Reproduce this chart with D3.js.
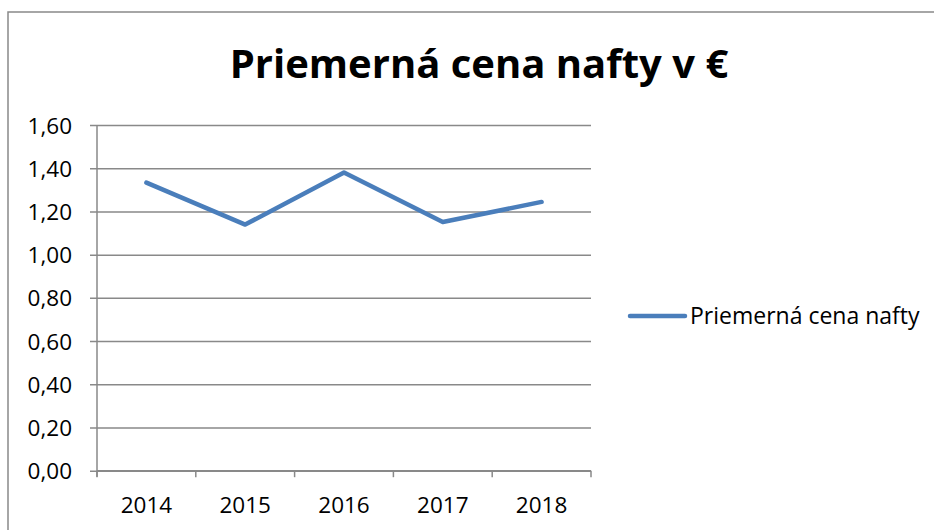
<!DOCTYPE html>
<html>
<head>
<meta charset="utf-8">
<script src="https://cdn.jsdelivr.net/npm/d3@7"></script>
<style>
  body { margin: 0; background: #fff; }
  text { font-family: "Open Sans", sans-serif; fill: #000; }
</style>
</head>
<body>
<div id="chart"></div>
<script>
var years = ["2014", "2015", "2016", "2017", "2018"];
var prices = [1.333, 1.139, 1.380, 1.151, 1.244];
var yTicks = [0, 0.2, 0.4, 0.6, 0.8, 1.0, 1.2, 1.4, 1.6];
var seriesName = "Priemerná cena nafty";
var chartTitle = "Priemerná cena nafty v €";

var width = 934, height = 530;
var plot = {left: 97, right: 591, top: 125, bottom: 470.7};
var gray = "#898989", blue = "#4a7ebb";

var svg = d3.select("#chart")
    .append("svg")
    .attr("width", width)
    .attr("height", height);

// chart frame (runs past the right and bottom edge of the window)
svg.append("rect")
    .attr("x", 8).attr("y", 12)
    .attr("width", 940).attr("height", 540)
    .attr("fill", "none")
    .attr("stroke", gray)
    .attr("stroke-width", 1.5);

svg.append("text")
    .attr("x", 479)
    .attr("y", 78)
    .attr("text-anchor", "middle")
    .attr("font-size", "40px")
    .attr("font-weight", "bold")
    .text(chartTitle);

var x = d3.scaleBand()
    .domain(years)
    .range([plot.left, plot.right])
    .paddingInner(0).paddingOuter(0);

var y = d3.scaleLinear()
    .domain([0, 1.6])
    .range([plot.bottom, plot.top]);

// gridlines + y axis
var yAxis = d3.axisLeft(y)
    .tickValues(yTicks)
    .tickSize(-(plot.right - plot.left))
    .tickPadding(0)
    .tickFormat(function(d){ return d3.format(".2f")(d).replace(".", ","); });

var gy = svg.append("g")
    .attr("transform", "translate(" + plot.left + ",0)")
    .call(yAxis);
gy.select(".domain").remove();
gy.selectAll(".tick line")
    .attr("x1", -7)
    .attr("stroke", gray)
    .attr("stroke-width", 1.5);
gy.selectAll(".tick text")
    .attr("x", -25)
    .attr("dy", "0.36em")
    .attr("font-size", "22.5px")
    .attr("font-family", "Open Sans")
    .attr("fill", "#000");

// vertical axis line
svg.append("line")
    .attr("x1", plot.left).attr("x2", plot.left)
    .attr("y1", plot.top).attr("y2", plot.bottom + 6)
    .attr("stroke", gray).attr("stroke-width", 1.5);

// x axis with ticks on category boundaries
var gx = svg.append("g")
    .attr("transform", "translate(0," + plot.bottom + ")");
gx.append("line")
    .attr("x1", plot.left).attr("x2", plot.right)
    .attr("stroke", gray).attr("stroke-width", 1.5);
var bounds = years.map(function(d){ return x(d); }).concat([x(years[years.length - 1]) + x.bandwidth()]);
gx.selectAll(".xt")
    .data(bounds)
    .enter()
    .append("line")
    .attr("x1", function(d){ return d; })
    .attr("x2", function(d){ return d; })
    .attr("y1", 0).attr("y2", 6.5)
    .attr("stroke", gray).attr("stroke-width", 1.5);
gx.selectAll(".xl")
    .data(years)
    .enter()
    .append("text")
    .attr("x", function(d){ return x(d) + x.bandwidth() / 2; })
    .attr("y", 42.5)
    .attr("text-anchor", "middle")
    .attr("font-size", "22.5px")
    .text(function(d){ return d; });

// series line
var line = d3.line()
    .x(function(d, i){ return x(years[i]) + x.bandwidth() / 2; })
    .y(function(d){ return y(d); });

svg.append("path")
    .datum(prices)
    .attr("d", line)
    .attr("fill", "none")
    .attr("stroke", blue)
    .attr("stroke-width", 4.5)
    .attr("stroke-linejoin", "round")
    .attr("stroke-linecap", "round");

// legend
var lg = svg.append("g").attr("transform", "translate(630,316)");
lg.append("line")
    .attr("x1", 0).attr("x2", 55)
    .attr("stroke", blue)
    .attr("stroke-width", 4.5)
    .attr("stroke-linecap", "round");
lg.append("text")
    .attr("x", 60)
    .attr("y", 8)
    .attr("font-size", "23px")
    .text(seriesName);
</script>
</body>
</html>
